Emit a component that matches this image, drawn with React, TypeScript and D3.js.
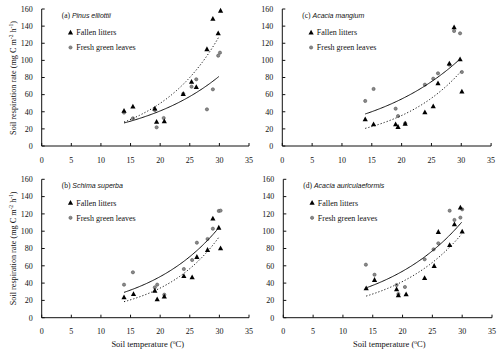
import React from "react";
import * as d3 from "d3";

// ---- Data ----
const xTicks = [0, 5, 10, 15, 20, 25, 30, 35];
const yTicks = [0, 20, 40, 60, 80, 100, 120, 140, 160];

const litterA_x = [13.9, 15.4, 19.1, 19.4, 20.7, 23.9, 25.3, 26.1, 27.9, 28.9, 29.8, 30.2];
const litterA_y = [41, 46, 43.6, 28.2, 28.8, 60.7, 74.8, 68.9, 113, 148.4, 131.6, 158];
const leavesA_x = [13.9, 15.4, 19.1, 19.4, 20.6, 23.9, 25.3, 26.1, 27.9, 28.9, 29.8, 30.1];
const leavesA_y = [39, 32.3, 42, 21.8, 32.7, 61, 69.3, 77.9, 42.8, 66.2, 105.5, 109];

const litterB_x = [13.9, 15.5, 19.1, 19.5, 20.7, 24.0, 25.4, 26.2, 28.0, 28.9, 29.9, 30.2];
const litterB_y = [23.6, 27.4, 31.2, 21.3, 24.3, 48.2, 46.7, 70.2, 78.3, 114.5, 104, 80.2];
const leavesB_x = [13.9, 15.4, 19.1, 19.5, 20.7, 24.0, 25.4, 26.2, 28.0, 28.9, 29.9, 30.2];
const leavesB_y = [38.2, 52.5, 35.1, 38.2, 26.6, 56.3, 66.7, 86.7, 91, 102.9, 123.4, 123.8];

const litterC_x = [13.9, 15.3, 19.0, 19.4, 20.6, 23.9, 25.3, 26.1, 28.0, 28.8, 29.8, 30.1];
const litterC_y = [31.2, 25.3, 25.3, 22.2, 26, 39.3, 46.3, 73.2, 96.2, 138.6, 101.2, 63.5];
const leavesC_x = [13.9, 15.3, 19.0, 19.4, 20.6, 23.9, 25.3, 26.1, 28.0, 28.8, 29.8, 30.1];
const leavesC_y = [52.6, 66.6, 43.6, 35, 26.5, 71.6, 78.6, 84.9, 95, 134.3, 131.6, 86.4];

const litterD_x = [13.9, 15.3, 19.0, 19.3, 20.6, 23.7, 25.3, 26.0, 27.9, 28.7, 29.7, 30.0];
const litterD_y = [33.9, 43.6, 32.8, 25.8, 27, 45.9, 59.8, 99.1, 84, 107.9, 127.2, 99.5];
const leavesD_x = [13.85, 15.3, 19.0, 19.3, 20.4, 23.7, 25.2, 26.0, 27.9, 28.7, 29.7, 30.0];
const leavesD_y = [61.3, 49.7, 37.8, 27.4, 35.5, 67.5, 79, 86, 123.7, 113, 115.7, 125.3];

// exponential fits y = a * exp(b * T): [a, b]
const fitLeaves = [[10.3, 0.069], [9.74, 0.0792], [15.6, 0.0629], [12.58, 0.0726]];
const fitLitter = [[7.5, 0.0947], [4.56, 0.1008], [5.9, 0.0899], [7.72, 0.0845]];
const fitRange = [13.9, 30];

const panelLetters = ["(a)", "(b)", "(c)", "(d)"];
const species = ["Pinus elliottii", "Schima superba", "Acacia mangium", "Acacia auriculaeformis"];
const legendLabels = ["Fallen litters", "Fresh green leaves"];

const litterX = [litterA_x, litterB_x, litterC_x, litterD_x];
const litterY = [litterA_y, litterB_y, litterC_y, litterD_y];
const leavesX = [leavesA_x, leavesB_x, leavesC_x, leavesD_x];
const leavesY = [leavesA_y, leavesB_y, leavesC_y, leavesD_y];

// ---- Layout ----
const panels = [
  { x: [41.7, 249], y: [146, 9], showY: true, showX: false },
  { x: [41.7, 249], y: [317.7, 179.3], showY: true, showX: true },
  { x: [282.3, 491.1], y: [146, 9], showY: false, showX: false },
  { x: [283.3, 492], y: [317.7, 179.3], showY: false, showX: true },
];

const SERIF = "'Liberation Serif', 'Times New Roman', serif";
const SANS = "'Liberation Sans', Arial, sans-serif";
const INK = "#111";

function Triangle({ cx, cy, s = 5.2 }: { cx: number; cy: number; s?: number }) {
  const h = s * 0.92;
  return (
    <path
      d={`M${cx},${cy - h * 0.6}L${cx + s / 2},${cy + h * 0.4}L${cx - s / 2},${cy + h * 0.4}Z`}
      fill="#000"
    />
  );
}

function Dot({ cx, cy }: { cx: number; cy: number }) {
  return <circle cx={cx} cy={cy} r={1.6} fill="#8a8a8a" stroke="#555" strokeWidth={0.6} />;
}

function Panel({ i }: { i: number }) {
  const p = panels[i];
  const x = d3.scaleLinear().domain([0, 35]).range(p.x);
  const y = d3.scaleLinear().domain([0, 160]).range(p.y);
  const x0 = p.x[0];
  const y0 = p.y[0];
  const ytop = p.y[1];
  const curveTs = d3.range(fitRange[0], fitRange[1] + 0.001, 0.2);
  const line = d3
    .line<number[]>()
    .x((d) => x(d[0]))
    .y((d) => y(d[1]));
  const [la, lb] = fitLeaves[i];
  const [ta, tb] = fitLitter[i];
  const leavesCurve = curveTs.map((t) => [t, la * Math.exp(lb * t)]);
  const litterCurve = curveTs.map((t) => [t, ta * Math.exp(tb * t)]);

  return (
    <g>
      {/* axes */}
      <line x1={x0} x2={x(35)} y1={y0} y2={y0} stroke={INK} strokeWidth={1} />
      <line x1={x0} x2={x0} y1={y0} y2={ytop} stroke={INK} strokeWidth={1} />
      {xTicks.map((t) => (
        <g key={"x" + t}>
          <line x1={x(t)} x2={x(t)} y1={y0} y2={y0 - 3} stroke={INK} strokeWidth={1} />
          <text
            x={x(t)}
            y={y0 + 16.5}
            textAnchor="middle"
            fontFamily={SERIF}
            fontSize={8}
            fill={INK}
          >
            {t}
          </text>
        </g>
      ))}
      {yTicks.map((t) => (
        <g key={"y" + t}>
          <line x1={x0} x2={x0 + 3} y1={y(t)} y2={y(t)} stroke={INK} strokeWidth={1} />
          <text
            x={x0 - 9}
            y={y(t) + 2.8}
            textAnchor="end"
            fontFamily={SERIF}
            fontSize={8}
            fill={INK}
          >
            {t}
          </text>
        </g>
      ))}

      {/* points */}
      {leavesX[i].map((t, k) => (
        <Dot key={"c" + k} cx={x(t)} cy={y(leavesY[i][k])} />
      ))}
      {litterX[i].map((t, k) => (
        <Triangle key={"t" + k} cx={x(t)} cy={y(litterY[i][k])} />
      ))}

      {/* fitted curves */}
      <path d={line(leavesCurve) || ""} fill="none" stroke={INK} strokeWidth={1} />
      <path
        d={line(litterCurve) || ""}
        fill="none"
        stroke={INK}
        strokeWidth={1}
        strokeDasharray="1.2,2"
      />

      {/* panel title */}
      <text x={x0 + 20} y={ytop + 8.5} fontSize={7} fill={INK}>
        <tspan fontFamily={SERIF} fontSize={7.5}>
          {panelLetters[i] + " "}
        </tspan>
        <tspan fontFamily={SANS} fontStyle="italic">
          {species[i]}
        </tspan>
      </text>

      {/* legend */}
      <Triangle cx={x0 + 28.8} cy={ytop + 23.6} />
      <text x={x0 + 34.5} y={ytop + 26.3} fontFamily={SERIF} fontSize={8} fill={INK}>
        {legendLabels[0]}
      </text>
      <Dot cx={x0 + 28.8} cy={ytop + 38.5} />
      <text x={x0 + 34.5} y={ytop + 41.3} fontFamily={SERIF} fontSize={8} fill={INK}>
        {legendLabels[1]}
      </text>

      {p.showY && (
        <text
          transform={`translate(${15.5},${ytop + 69}) rotate(-90)`}
          textAnchor="middle"
          fontFamily={SERIF}
          fontSize={8.2}
          fill={INK}
        >
          Soil respiration rate (mg C m
          <tspan fontSize={5.5} dy={-3}>-2</tspan>
          <tspan dy={3}> h</tspan>
          <tspan fontSize={5.5} dy={-3}>-1</tspan>
          <tspan dy={3}>)</tspan>
        </text>
      )}
      {p.showX && (
        <text
          x={x0 + 106}
          y={y0 + 29.5}
          textAnchor="middle"
          fontFamily={SERIF}
          fontSize={8.5}
          fill={INK}
        >
          Soil temperature (
          <tspan fontSize={5.5} dy={-3}>o</tspan>
          <tspan dy={3}>C)</tspan>
        </text>
      )}
    </g>
  );
}

export default function App() {
  return (
    <svg
      width={500}
      height={352}
      style={{ position: "absolute", left: 0, top: 0, background: "#fff" }}
    >
      <rect width={500} height={352} fill="#fff" />
      {panels.map((_, i) => (
        <Panel key={i} i={i} />
      ))}
    </svg>
  );
}
